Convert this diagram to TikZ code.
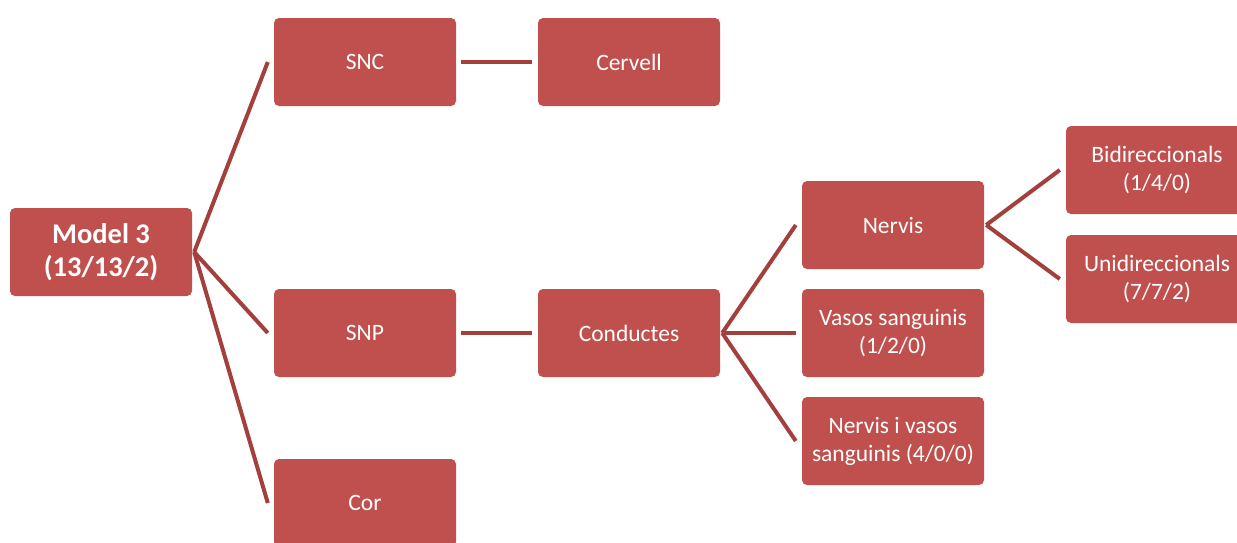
\documentclass[tikz,border=0pt]{standalone}
\usepackage{fontspec}
\setmainfont{Carlito}
\definecolor{boxred}{HTML}{C0504D}
\definecolor{linkred}{HTML}{A3403D}
\begin{document}
\begin{tikzpicture}[x=1pt,y=-1pt,
  box/.style={draw=none, fill=boxred, rounded corners=5pt, text=white,
    minimum width=182pt, minimum height=88pt, align=center, inner sep=2pt,
    font=\fontsize{23.5}{28}\selectfont},
  rootbox/.style={box, font=\fontsize{28.5}{33}\selectfont\bfseries},
  conn/.style={draw=linkred, line width=4pt}]
\useasboundingbox (0,0) rectangle (1237,542);

% tree nodes
\node[rootbox] (m)    at (101,252) {Model 3\\(13/13/2)};
\node[box] (snc)  at (365,62)  {SNC};
\node[box] (cerv) at (629,62)  {Cervell};
\node[box] (snp)  at (365,333) {SNP};
\node[box] (cor)  at (365,503) {Cor};
\node[box] (cond) at (629,333) {Conductes};
\node[box] (nerv) at (893,225) {Nervis};
\node[box] (vas)  at (893,333) {Vasos sanguinis\\(1/2/0)};
\node[box] (nv)   at (893,441) {Nervis i vasos\\sanguinis (4/0/0)};
\node[box] (bid)  at (1157,170) {Bidireccionals\\(1/4/0)};
\node[box] (uni)  at (1157,279) {Unidireccionals\\(7/7/2)};

% connectors
\draw[conn] ([xshift=2pt]m.east) -- ([xshift=-6pt]snc.west);
\draw[conn] ([xshift=2pt]m.east) -- ([xshift=-6pt]snp.west);
\draw[conn] ([xshift=2pt]m.east) -- ([xshift=-6pt]cor.west);
\draw[conn] ([xshift=5pt]snc.east) -- ([xshift=-6pt]cerv.west);
\draw[conn] ([xshift=5pt]snp.east) -- ([xshift=-6pt]cond.west);
\draw[conn] ([xshift=2pt]cond.east) -- ([xshift=-6pt]nerv.west);
\draw[conn] ([xshift=2pt]cond.east) -- ([xshift=-6pt]vas.west);
\draw[conn] ([xshift=2pt]cond.east) -- ([xshift=-6pt]nv.west);
\draw[conn] ([xshift=2pt]nerv.east) -- ([xshift=-6pt]bid.west);
\draw[conn] ([xshift=2pt]nerv.east) -- ([xshift=-6pt]uni.west);
\end{tikzpicture}
\end{document}
